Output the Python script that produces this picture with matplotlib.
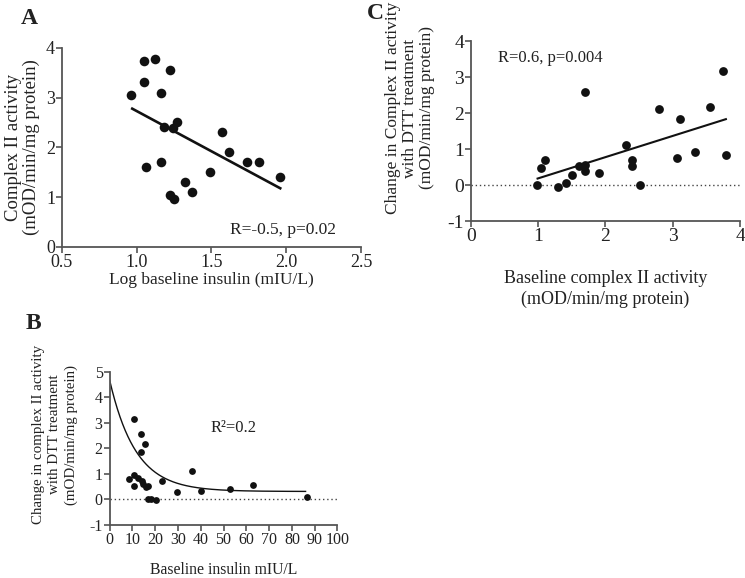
import numpy as np
import matplotlib.pyplot as plt

plt.rcParams['font.family'] = ['Liberation Serif', 'DejaVu Serif']
plt.rcParams['axes.unicode_minus'] = False
plt.rcParams['text.color'] = '#222222'
plt.rcParams['axes.labelcolor'] = '#222222'
plt.rcParams['xtick.color'] = '#555555'
plt.rcParams['ytick.color'] = '#555555'
plt.rcParams['xtick.labelcolor'] = '#222222'
plt.rcParams['ytick.labelcolor'] = '#222222'

# panel A: log insulin vs complex II activity
a_x = [0.96, 1.05, 1.05, 1.12, 1.22, 1.16, 1.18, 1.24, 1.27, 1.06, 1.16,
       1.22, 1.25, 1.32, 1.37, 1.49, 1.57, 1.62, 1.74, 1.82, 1.96]
a_y = [3.05, 3.73, 3.32, 3.78, 3.56, 3.10, 2.41, 2.40, 2.51, 1.61, 1.70,
       1.05, 0.97, 1.31, 1.11, 1.51, 2.31, 1.91, 1.71, 1.71, 1.41]
fit_a_x = [0.97, 1.96]
fit_a_y = [2.78, 1.18]

# panel B: insulin vs change with DTT
b_x = [8.7, 10.6, 10.7, 10.9, 12.6, 13.7, 13.7, 14.1, 15.7, 14.8, 15.9,
       16.7, 16.7, 18.1, 20.4, 22.9, 29.7, 36.0, 40.0, 52.9, 63.1, 86.5]
b_y = [0.78, 3.17, 0.95, 0.52, 0.82, 2.58, 1.84, 0.73, 2.19, 0.60, 0.47,
       0.54, 0.01, 0.01, -0.03, 0.72, 0.30, 1.12, 0.34, 0.39, 0.56, 0.08]
# one phase decay
b_y0, b_plateau, b_k = 4.7, 0.31, 0.088
b_xmax = 86

# panel C: baseline activity vs change with DTT
c_x = [0.98, 1.04, 1.10, 1.30, 1.41, 1.50, 1.61, 1.70, 1.70, 1.70, 1.90,
       2.30, 2.40, 2.40, 2.51, 2.79, 3.06, 3.11, 3.33, 3.56, 3.75, 3.79]
c_y = [0.00, 0.46, 0.69, -0.05, 0.07, 0.28, 0.54, 2.58, 0.55, 0.38, 0.33,
       1.12, 0.70, 0.53, 0.00, 2.12, 0.75, 1.83, 0.93, 2.18, 3.17, 0.83]
fit_c_x = [0.99, 3.79]
fit_c_y = [0.18, 1.83]


def style(ax, fs):
    for s in ['top', 'right']:
        ax.spines[s].set_visible(False)
    for s in ['left', 'bottom']:
        ax.spines[s].set_linewidth(1.3)
        ax.spines[s].set_color('#555555')
    ax.tick_params(direction='out', length=4, width=1.2, labelsize=fs, pad=1)


fig = plt.figure(figsize=(7.45, 5.78), dpi=100)

# A
axA = fig.add_axes([0.0832, 0.5727, 0.4013, 0.3443])
axA.scatter(a_x, a_y, s=48, color='#111111', zorder=3, linewidths=0)
axA.plot(fit_a_x, fit_a_y, color='#111111', lw=1.9)
axA.set_xlim(0.5, 2.5)
axA.set_ylim(0, 4)
axA.set_xticks([0.5, 1.0, 1.5, 2.0, 2.5])
axA.set_xticklabels(['0.5', '1.0', '1.5', '2.0', '2.5'])
axA.set_yticks([0, 1, 2, 3, 4])
style(axA, 13)
axA.set_xlabel('Log baseline insulin (mIU/L)', fontsize=12.5, labelpad=1)
axA.set_ylabel('Complex II activity\n(mOD/min/mg protein)', fontsize=13.5,
               linespacing=1.05, labelpad=4)
axA.text(2.33, 0.34, 'R=-0.5, p=0.02', fontsize=12.5, ha='right', va='center')
fig.text(0.028, 0.968, 'A', fontsize=17, fontweight='bold', va='center')

# B
axB = fig.add_axes([0.147, 0.092, 0.306, 0.2644])
axB.scatter(b_x, b_y, s=24, color='#111111', zorder=3, linewidths=0)
xs = np.linspace(0, b_xmax, 300)
axB.plot(xs, b_plateau + (b_y0 - b_plateau) * np.exp(-b_k * xs),
         color='#111111', lw=1.0)
axB.axhline(0, color='#444444', lw=1.0, ls=(0, (1, 2)))
axB.set_xlim(0, 100)
axB.set_ylim(-1, 5)
axB.set_xticks(range(0, 101, 10))
axB.set_yticks(range(-1, 6))
style(axB, 11.5)
axB.set_xlabel('Baseline insulin mIU/L', fontsize=11.3, labelpad=10)
axB.set_ylabel('Change in complex II activity\nwith DTT treatment\n(mOD/min/mg protein)',
               fontsize=10.8, linespacing=1.3)
axB.yaxis.set_label_coords(-0.14, 0.59)
axB.text(54.6, 2.8, 'R²=0.2', fontsize=12, ha='center', va='center')
fig.text(0.034, 0.441, 'B', fontsize=17, fontweight='bold', va='center')

# C
axC = fig.add_axes([0.6322, 0.6176, 0.3611, 0.3114])
axC.scatter(c_x, c_y, s=40, color='#111111', zorder=3, linewidths=0)
axC.plot(fit_c_x, fit_c_y, color='#111111', lw=1.5)
axC.axhline(0, color='#444444', lw=1.0, ls=(0, (1, 2)))
axC.set_xlim(0, 4)
axC.set_ylim(-1, 4)
axC.set_xticks([0, 1, 2, 3, 4])
axC.set_yticks(range(-1, 5))
style(axC, 14)
axC.set_xlabel('Baseline complex II activity\n(mOD/min/mg protein)',
               fontsize=13, linespacing=1.3, labelpad=18)
axC.set_ylabel('Change in Complex II activity\nwith DTT treatment\n(mOD/min/mg protein)',
               fontsize=12.5, linespacing=1.05)
axC.yaxis.set_label_coords(-0.135, 0.628)
axC.text(0.40, 3.53, 'R=0.6, p=0.004', fontsize=12, ha='left', va='center')
fig.text(0.493, 0.977, 'C', fontsize=17, fontweight='bold', va='center')

fig.savefig('out.png', dpi=100)
